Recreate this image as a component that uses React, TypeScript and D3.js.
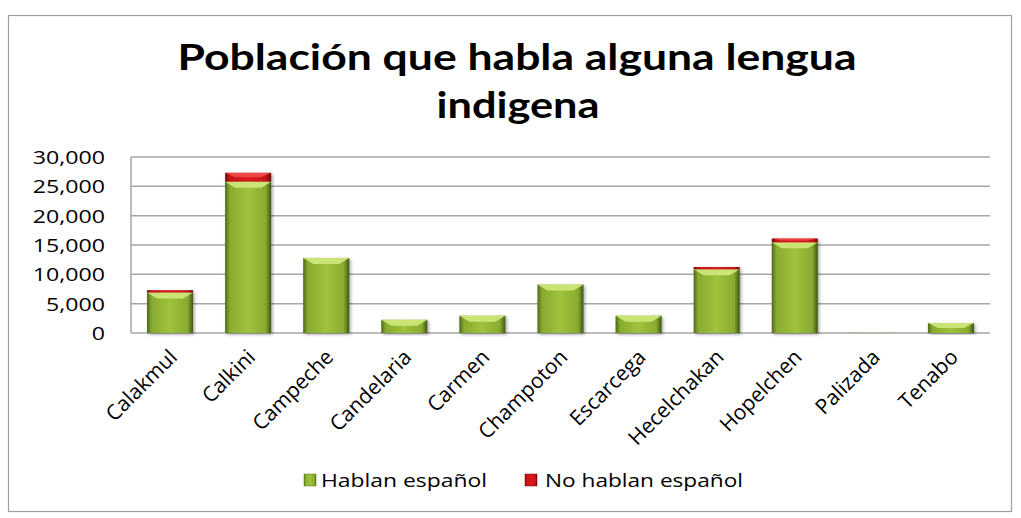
import React from "react";
import { scaleBand, scaleLinear, format, range } from "d3";

const municipios = [
  "Calakmul",
  "Calkini",
  "Campeche",
  "Candelaria",
  "Carmen",
  "Champoton",
  "Escarcega",
  "Hecelchakan",
  "Hopelchen",
  "Palizada",
  "Tenabo",
];
const hablanEspanol = [6900, 25800, 12800, 2250, 2950, 8250, 2950, 10850, 15450, 30, 1700];
const noHablanEspanol = [400, 1500, 0, 0, 0, 0, 0, 400, 650, 0, 0];
const yTicks = range(0, 30001, 5000);
const seriesNames = ["Hablan español", "No hablan español"];

const W = 1021;
const H = 518;
const plot = { left: 131, right: 990, top: 157, bottom: 333 };

const App = () => {
  const x = scaleBand<string>()
    .domain(municipios)
    .range([plot.left, plot.right])
    .paddingInner(0.41)
    .paddingOuter(0.205);
  const y = scaleLinear().domain([0, 30000]).range([plot.bottom, plot.top]);
  const fmt = format(",");
  const bw = x.bandwidth();

  const segment = (x0: number, v0: number, v1: number, fill: string, bevel: string, key: string) => {
    const yTop = y(v1);
    const yBot = y(v0);
    const h = yBot - yTop;
    if (h <= 0) return null;
    const b = Math.min(6, h / 2);
    const inset = Math.min(10, bw / 4);
    return (
      <g key={key}>
        <rect x={x0} y={yTop} width={bw} height={h} fill={fill} />
        {h > 3 && (
          <polygon
            points={`${x0},${yTop} ${x0 + bw},${yTop} ${x0 + bw - inset},${yTop + b} ${x0 + inset},${yTop + b}`}
            fill={bevel}
            opacity={0.9}
          />
        )}
      </g>
    );
  };

  return (
    <svg
      width={W}
      height={H}
      style={{ position: "absolute", left: 0, top: 0, background: "#fff" }}
      fontFamily="'Open Sans', sans-serif"
    >
      <defs>
        <linearGradient id="gGreen" x1="0" x2="1" y1="0" y2="0">
          <stop offset="0" stopColor="#4d6a17" />
          <stop offset="0.1" stopColor="#88aa30" />
          <stop offset="0.5" stopColor="#a0c23c" />
          <stop offset="0.88" stopColor="#88aa30" />
          <stop offset="1" stopColor="#3f5712" />
        </linearGradient>
        <linearGradient id="gRed" x1="0" x2="1" y1="0" y2="0">
          <stop offset="0" stopColor="#7a0c0c" />
          <stop offset="0.1" stopColor="#c41414" />
          <stop offset="0.5" stopColor="#dc1c1c" />
          <stop offset="0.88" stopColor="#c41414" />
          <stop offset="1" stopColor="#6e0a0a" />
        </linearGradient>
        <filter id="shadow" x="-20%" y="-20%" width="140%" height="140%">
          <feDropShadow dx="1.5" dy="1.5" stdDeviation="1.5" floodColor="#000" floodOpacity="0.35" />
        </filter>
      </defs>

      <rect x={8.5} y={15.5} width={1003} height={496} fill="#fff" stroke="#a0a0a0" strokeWidth={1.2} />

      <text
        x={517}
        y={70}
        textAnchor="middle"
        fontFamily="Lato, sans-serif"
        fontWeight={700}
        fontSize={36}
        textLength={679}
        lengthAdjust="spacingAndGlyphs"
        fill="#000"
      >
        Población que habla alguna lengua
      </text>
      <text
        x={518}
        y={118}
        textAnchor="middle"
        fontFamily="Lato, sans-serif"
        fontWeight={700}
        fontSize={36}
        textLength={163}
        lengthAdjust="spacingAndGlyphs"
        fill="#000"
      >
        indigena
      </text>

      {yTicks.map((t) => (
        <g key={t}>
          <line x1={plot.left} x2={plot.right} y1={y(t)} y2={y(t)} stroke="#a6a6a6" strokeWidth={1.5} />
          <g transform={`translate(105,${y(t)}) scale(1.22,1)`}>
            <text x={0} y={0} dy="0.36em" textAnchor="end" fontSize={19} fill="#000">
              {fmt(t)}
            </text>
          </g>
        </g>
      ))}
      <line x1={plot.left} x2={plot.left} y1={plot.top} y2={plot.bottom} stroke="#a6a6a6" strokeWidth={1.5} />

      {municipios.map((m, i) => {
        const x0 = x(m) as number;
        const a = hablanEspanol[i];
        const b = noHablanEspanol[i];
        return (
          <g key={m} filter="url(#shadow)">
            {segment(x0, 0, a, "url(#gGreen)", "#cfe97c", m + "g")}
            {segment(x0, a, a + b, "url(#gRed)", "#ee4a4a", m + "r")}
          </g>
        );
      })}

      {municipios.map((m) => {
        const cx = (x(m) as number) + bw / 2 - 2;
        return (
          <text
            key={m}
            transform={`translate(${cx},${plot.bottom + 15}) rotate(-45)`}
            textAnchor="end"
            dy="0.7em"
            fontSize={21}
            fill="#000"
          >
            {m}
          </text>
        );
      })}

      <g fontSize={19}>
        <rect x={304} y={474} width={12} height={12} fill="url(#gGreen)" stroke="#5a7a1e" strokeWidth={0.5} />
        <text x={321} y={480} dy="0.35em" fill="#000" textLength={166} lengthAdjust="spacingAndGlyphs">
          {seriesNames[0]}
        </text>
        <rect x={525} y={474} width={12} height={12} fill="url(#gRed)" stroke="#8b0000" strokeWidth={0.5} />
        <text x={545} y={480} dy="0.35em" fill="#000" textLength={198} lengthAdjust="spacingAndGlyphs">
          {seriesNames[1]}
        </text>
      </g>
    </svg>
  );
};

export default App;
